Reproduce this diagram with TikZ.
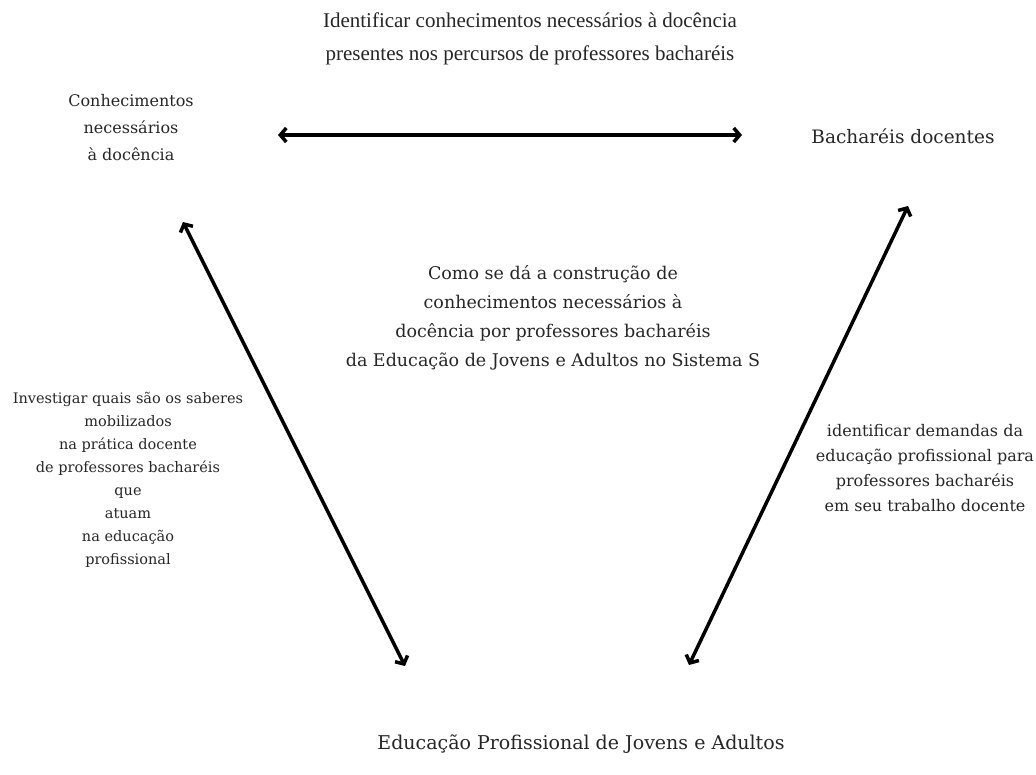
\documentclass[tikz,border=0pt]{standalone}
\usepackage{fontspec}
\setmainfont{DejaVu Serif}
\newfontfamily\timesfont{Liberation Serif}
\usepackage{tikz}
\usetikzlibrary{arrows.meta}

\begin{document}
\begin{tikzpicture}[x=1pt,y=-1pt]
\tikzstyle{label} = [align=center,text=black!85,inner sep=0pt,font=\fontsize{14.5}{23}\selectfont]
\tikzstyle{toplabel} = [align=center,text=black!85,inner sep=0pt,font=\timesfont\fontsize{21}{33}\selectfont]
\tikzstyle{link} = [line width=3.5pt,{Straight Barb[length=6pt,width=14pt]}-{Straight Barb[length=6pt,width=14pt]}]

\useasboundingbox (0,0) rectangle (1036,774);

\node[toplabel] (aim) at (530,39) {Identificar conhecimentos necessários à docência\\presentes nos percursos de professores bacharéis};
\node[label,font=\fontsize{16}{27}\selectfont] (know) at (131,128) {Conhecimentos\\necessários\\à docência};
\node[label,font=\fontsize{18.5}{27}\selectfont] (bach) at (903,136) {Bacharéis docentes};
\node[label,font=\fontsize{17.5}{29}\selectfont] (quest) at (553,318) {Como se dá a construção de\\conhecimentos necessários à\\docência por professores bacharéis\\da Educação de Jovens e Adultos no Sistema S};
\node[label] (left) at (128,480) {Investigar quais são os saberes\\mobilizados\\na prática docente\\de professores bacharéis\\que\\atuam\\na educação\\profissional};
\node[label,font=\fontsize{16}{25}\selectfont] (right) at (925,468) {identificar demandas da\\educação profissional para\\professores bacharéis\\em seu trabalho docente};
\node[label,font=\fontsize{19}{30}\selectfont] (edu) at (581,744) {Educação Profissional de Jovens e Adultos};

\coordinate (kn) at (278,135);
\coordinate (ba) at (742,135);
\coordinate (kd) at (183,222);
\coordinate (ek) at (405,666);
\coordinate (bd) at (908,206);
\coordinate (eb) at (689,665);

\draw[link] (kn) -- (ba);
\draw[link] (kd) -- (ek);
\draw[link] (bd) -- (eb);
\end{tikzpicture}
\end{document}
